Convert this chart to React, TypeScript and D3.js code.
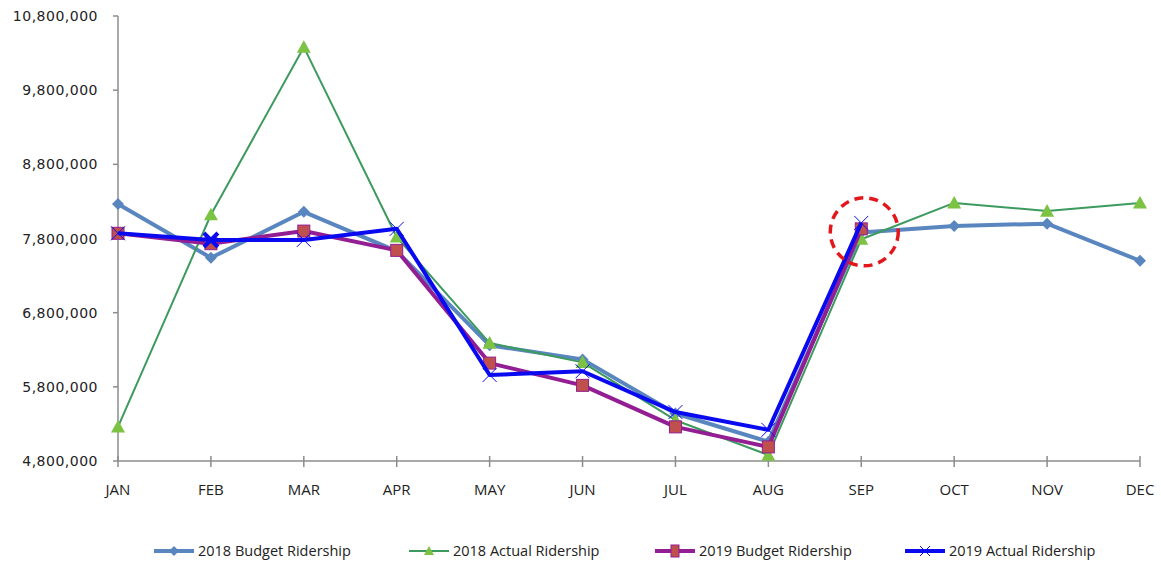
import React from "react";
import * as d3 from "d3";

const months = ["JAN", "FEB", "MAR", "APR", "MAY", "JUN", "JUL", "AUG", "SEP", "OCT", "NOV", "DEC"];
const yTicks = [4800000, 5800000, 6800000, 7800000, 8800000, 9800000, 10800000];

const budget2018 = [8265000, 7540000, 8160000, 7630000, 6360000, 6170000, 5440000, 5060000, 7880000, 7970000, 8000000, 7500000];
const actual2018 = [5260000, 8120000, 10380000, 7820000, 6390000, 6130000, 5350000, 4880000, 7790000, 8280000, 8170000, 8280000];
const budget2019 = [7870000, 7730000, 7900000, 7640000, 6120000, 5820000, 5260000, 4990000, 7930000];
const actual2019 = [7870000, 7780000, 7780000, 7930000, 5960000, 6010000, 5460000, 5220000, 8010000];

const seriesNames = ["2018 Budget Ridership", "2018 Actual Ridership", "2019 Budget Ridership", "2019 Actual Ridership"];
const highlightMonth = "SEP";

const W = 1161;
const H = 561;
const left = 118;
const right = 1140;
const top = 16;
const bottom = 461;

export default function App() {
  const x = d3.scalePoint<string>().domain(months).range([left, right]);
  const y = d3.scaleLinear().domain([4800000, 10800000]).range([bottom, top]);
  const fmt = d3.format(",");
  const line = d3
    .line<number>()
    .x((_, i) => x(months[i]) as number)
    .y((v) => y(v));

  const axisColor = "#8c8c8c";
  const c1 = "#5a86c0";
  const c2 = "#3d9a5e";
  const c2fill = "#7cc243";
  const c3 = "#931e93";
  const c3fill = "#c0504d";
  const c4 = "#0a0af0";

  const diamond = (cx: number, cy: number, s: number) =>
    `M${cx},${cy - s}L${cx + s},${cy}L${cx},${cy + s}L${cx - s},${cy}Z`;
  const tri = (cx: number, cy: number, s: number) =>
    `M${cx},${cy - s}L${cx + s},${cy + s * 0.8}L${cx - s},${cy + s * 0.8}Z`;
  const cross = (cx: number, cy: number, s: number) =>
    `M${cx - s},${cy - s}L${cx + s},${cy + s}M${cx + s},${cy - s}L${cx - s},${cy + s}`;

  const legendItems = [
    { x: 154, name: seriesNames[0], kind: "diamond" },
    { x: 409, name: seriesNames[1], kind: "tri" },
    { x: 655, name: seriesNames[2], kind: "square" },
    { x: 905, name: seriesNames[3], kind: "cross" },
  ];
  const ly = 551;

  const sepX = x(highlightMonth) as number;
  const sepY = y(budget2019[8]);

  return (
    <svg
      width={W}
      height={H}
      style={{ position: "absolute", left: 0, top: 0, background: "#fff" }}
    >
      <rect x={0} y={0} width={W} height={H} fill="#fff" />
      {/* y axis */}
      <line x1={left} x2={left} y1={top} y2={bottom} stroke={axisColor} strokeWidth={1.5} />
      {yTicks.map((t) => (
        <g key={t}>
          <line x1={left - 5} x2={left} y1={y(t)} y2={y(t)} stroke={axisColor} strokeWidth={1.5} />
          <text
            x={98}
            y={y(t) + 5}
            textAnchor="end"
            fontFamily="DejaVu Sans, Verdana, sans-serif"
            fontSize={14}
            letterSpacing={0.5}
            fill="#222"
          >
            {fmt(t)}
          </text>
        </g>
      ))}
      {/* x axis */}
      <line x1={left} x2={right} y1={bottom} y2={bottom} stroke={axisColor} strokeWidth={1.5} />
      {months.map((m) => (
        <g key={m}>
          <line
            x1={x(m) as number}
            x2={x(m) as number}
            y1={bottom - 5}
            y2={bottom + 6}
            stroke={axisColor}
            strokeWidth={1.5}
          />
          <text
            x={x(m) as number}
            y={495}
            textAnchor="middle"
            fontFamily="Liberation Sans Narrow, Open Sans, sans-serif"
            fontSize={15}
            fill="#222"
          >
            {m}
          </text>
        </g>
      ))}

      {/* 2018 budget */}
      <path d={line(budget2018) || ""} fill="none" stroke={c1} strokeWidth={4} strokeLinejoin="round" />
      {budget2018.map((v, i) => (
        <path key={i} d={diamond(x(months[i]) as number, y(v), 6)} fill={c1} />
      ))}
      {/* 2018 actual */}
      <path d={line(actual2018) || ""} fill="none" stroke={c2} strokeWidth={2} strokeLinejoin="round" />
      {actual2018.map((v, i) => (
        <path key={i} d={tri(x(months[i]) as number, y(v), 7)} fill={c2fill} />
      ))}
      {/* 2019 budget */}
      <path d={line(budget2019) || ""} fill="none" stroke={c3} strokeWidth={4} strokeLinejoin="round" />
      {budget2019.map((v, i) => (
        <rect
          key={i}
          x={(x(months[i]) as number) - 6}
          y={y(v) - 6}
          width={12}
          height={12}
          fill={c3fill}
          stroke={c3}
          strokeWidth={1}
        />
      ))}
      {/* 2019 actual */}
      <path d={line(actual2019) || ""} fill="none" stroke={c4} strokeWidth={4} strokeLinejoin="round" />
      {actual2019.map((v, i) => (
        <path
          key={i}
          d={cross(x(months[i]) as number, y(v), 7)}
          stroke={c4}
          strokeWidth={i === 1 ? 4 : 1}
          fill="none"
        />
      ))}

      {/* highlight circle */}
      <circle
        cx={sepX + 3}
        cy={sepY + 3}
        r={34}
        fill="none"
        stroke="#e3161b"
        strokeWidth={3.5}
        strokeDasharray="9 6"
      />

      {/* legend */}
      {legendItems.map((it, i) => {
        const color = [c1, c2, c3, c4][i];
        const sw = i === 1 ? 2 : 4;
        const mx = it.x + 20;
        return (
          <g key={it.name}>
            <line x1={it.x} x2={it.x + 40} y1={ly} y2={ly} stroke={color} strokeWidth={sw} />
            {it.kind === "diamond" && <path d={diamond(mx, ly, 5)} fill={c1} />}
            {it.kind === "tri" && <path d={tri(mx, ly, 5)} fill={c2fill} />}
            {it.kind === "square" && (
              <rect x={mx - 4} y={ly - 6} width={8} height={12} fill={c3fill} stroke={c3} strokeWidth={1} />
            )}
            {it.kind === "cross" && <path d={cross(mx, ly, 5)} stroke={c4} strokeWidth={1} fill="none" />}
            <text
              x={it.x + 44}
              y={ly + 5}
              fontFamily="Liberation Sans Narrow, Open Sans, sans-serif"
              fontSize={14.5}
              fill="#222"
            >
              {it.name}
            </text>
          </g>
        );
      })}
    </svg>
  );
}
